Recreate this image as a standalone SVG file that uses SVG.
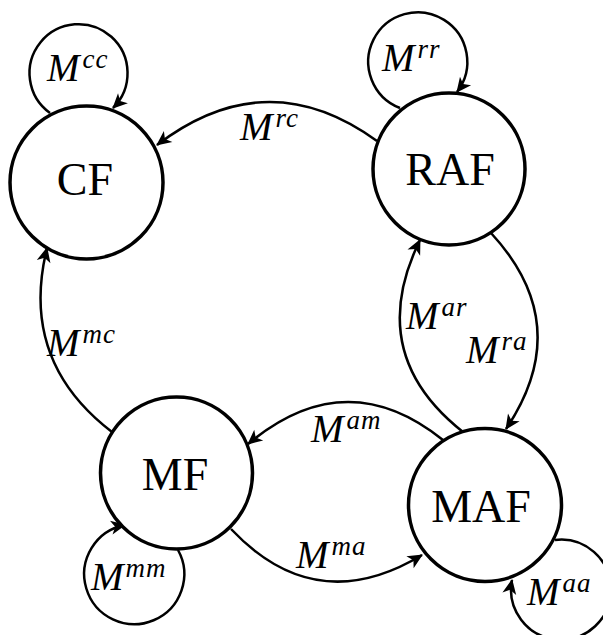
<svg xmlns="http://www.w3.org/2000/svg" width="603" height="635" viewBox="0 0 603 635">
<style>
.node{fill:#fff;stroke:#000;stroke-width:3.5}
.edge{fill:none;stroke:#000;stroke-width:2.5;marker-end:url(#arr)}
.name{font-family:"Liberation Serif",serif;font-size:46px;text-anchor:middle;fill:#000}
.lbl{font-family:"Liberation Serif",serif;font-style:italic;font-size:39px;fill:#000}
.sup{font-size:27px;letter-spacing:1px}
</style>
<defs>
<marker id="arr" markerUnits="userSpaceOnUse" orient="auto" refX="0" refY="0" markerWidth="30" markerHeight="30" viewBox="-20 -10 30 20" overflow="visible">
<path d="M1,0 L-14,-7 L-10,0 L-14,7 Z" fill="#000"/>
</marker>
</defs>
<rect width="603" height="635" fill="#fff"/>
<g id="connectors">
<path class="edge" d="M50,113 A49,49 0 1 1 113,108"/>
<path class="edge" d="M400,108 A49.5,49.5 0 1 1 457,92"/>
<path class="edge" d="M178,550 A50,50 0 1 1 125,525"/>
<path class="edge" d="M555,540 A50,50 0 1 1 512,580"/>
<path class="edge" d="M377,141 Q267,61 157,145"/>
<path class="edge" d="M112,432 Q19,361 47,248"/>
<path class="edge" d="M463,432 Q364,354 420,240"/>
<path class="edge" d="M491,233 Q576,325 506,429"/>
<path class="edge" d="M443,440 Q346,362 248,444"/>
<path class="edge" d="M231,529 Q316,619 422,555"/>
</g>
<g id="node-CF"><circle class="node" cx="86.5" cy="182.5" r="76.5"/><text class="name" x="85" y="195">CF</text></g>
<g id="node-RAF"><circle class="node" cx="449" cy="169" r="76"/><text class="name" x="450" y="185">RAF</text></g>
<g id="node-MF"><circle class="node" cx="176.5" cy="473" r="76"/><text class="name" x="175" y="490">MF</text></g>
<g id="node-MAF"><circle class="node" cx="485" cy="505" r="76.5"/><text class="name" x="481" y="522">MAF</text></g>
<g id="labels">
<text class="lbl" x="47" y="81">M<tspan class="sup" dx="3" dy="-13">cc</tspan></text>
<text class="lbl" x="382" y="71">M<tspan class="sup" dx="3" dy="-13">rr</tspan></text>
<text class="lbl" x="240" y="140">M<tspan class="sup" dx="3" dy="-13">rc</tspan></text>
<text class="lbl" x="47" y="356">M<tspan class="sup" dx="3" dy="-13">mc</tspan></text>
<text class="lbl" x="406" y="329">M<tspan class="sup" dx="3" dy="-13">ar</tspan></text>
<text class="lbl" x="466" y="363">M<tspan class="sup" dx="3" dy="-13">ra</tspan></text>
<text class="lbl" x="311" y="442">M<tspan class="sup" dx="3" dy="-13">am</tspan></text>
<text class="lbl" x="296" y="568">M<tspan class="sup" dx="3" dy="-13">ma</tspan></text>
<text class="lbl" x="91" y="590">M<tspan class="sup" dx="2" dy="-13">mm</tspan></text>
<text class="lbl" x="527" y="605">M<tspan class="sup" dx="3" dy="-13">aa</tspan></text>
</g>
</svg>
